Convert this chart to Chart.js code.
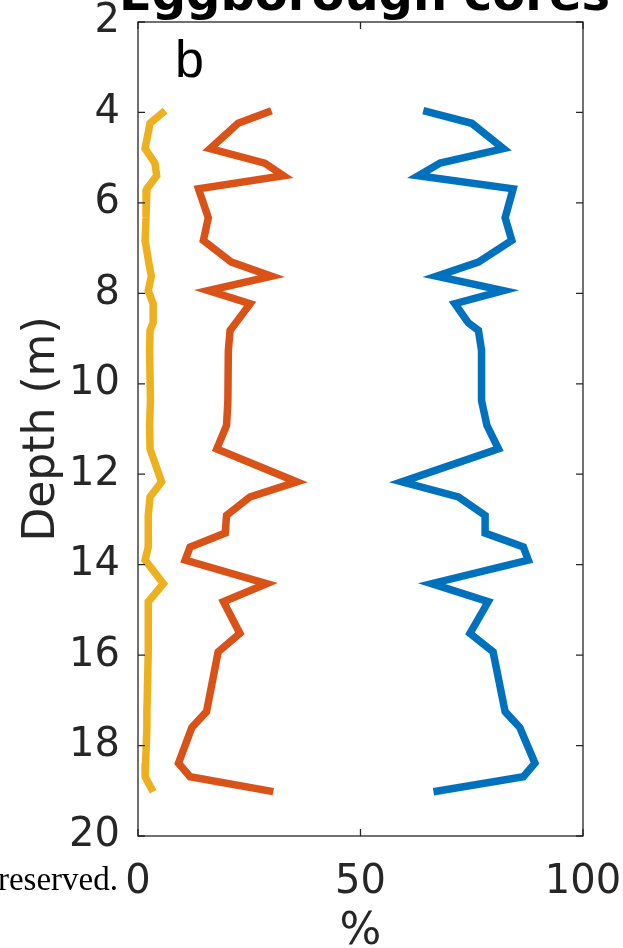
<!DOCTYPE html>
<html>
<head>
<meta charset="utf-8">
<script src="https://cdn.jsdelivr.net/npm/chart.js@4/dist/chart.umd.min.js"></script>
<style>
  html, body { margin: 0; padding: 0; background: #fff; overflow: hidden; }
  #wrap { position: relative; width: 623px; height: 948px; }
  #note {
    position: absolute; right: 505px; top: 861px;
    font-family: "Liberation Serif", serif; font-size: 33px; color: #000;
    white-space: nowrap;
  }
</style>
</head>
<body>
<div id="wrap">
  <canvas id="coreChart" width="623" height="948"></canvas>
  <div id="note">reserved.</div>
</div>
<script>
// sample depths (m) and the three fractions (%)
const depths = [3.96, 4.24, 4.8, 5.12, 5.4, 5.69, 6.33, 6.83, 7.31, 7.62, 7.94, 8.23, 8.65, 8.82,
  9.26, 10.37, 10.92, 11.44, 12.17, 12.5, 12.91, 13.3, 13.61, 13.9, 14.42, 14.82, 15.52, 15.93,
  17.25, 17.6, 18.39, 18.69, 19.02];
const blueValues = [64.1, 75.0, 82.1, 67.9, 63.0, 84.3, 82.5, 84.0, 76.5, 67.1, 82.1, 71.2, 74.2, 76.5,
  77.2, 77.2, 78.4, 81.0, 59.3, 72.0, 78.0, 78.0, 86.6, 87.7, 66.0, 78.7, 74.6, 79.8,
  82.5, 85.8, 89.2, 86.6, 66.4];
const orangeValues = [30.0, 22.5, 16.2, 28.5, 32.7, 13.6, 15.8, 14.7, 21.0, 30.0, 15.8, 25.2, 22.0, 20.7,
  20.3, 20.2, 19.9, 17.7, 35.7, 25.2, 19.9, 19.6, 11.7, 10.6, 28.9, 19.2, 22.9, 18.0,
  15.4, 12.1, 9.1, 11.7, 30.4];
const yellowValues = [6.1, 2.7, 1.6, 3.8, 4.2, 2.0, 1.8, 1.6, 2.4, 3.0, 2.3, 3.4, 3.4, 2.7,
  2.6, 2.8, 2.6, 2.7, 5.3, 2.7, 2.3, 2.3, 2.3, 1.6, 5.7, 2.3, 2.3, 2.3,
  2.0, 2.0, 1.7, 1.6, 3.4];
const depthTicks = [2, 4, 6, 8, 10, 12, 14, 16, 18, 20];
const percentTicks = [0, 50, 100];

const axisColor = '#262626';

function toPoints(values) {
  return values.map((v, i) => ({ x: v, y: depths[i] }));
}

function makeSeries(values, color) {
  return {
    data: toPoints(values),
    borderColor: color,
    backgroundColor: color,
    borderWidth: 7.5,
    pointRadius: 0,
    showLine: true,
    tension: 0,
    fill: false
  };
}

// box, inward ticks, title and panel letter (matlab style)
const framePlugin = {
  id: 'frame',
  afterDatasetsDraw(chart) {
    const { ctx, chartArea: a, scales } = chart;
    const tick = 7;
    ctx.save();
    ctx.strokeStyle = axisColor;
    ctx.lineWidth = 1.3;
    ctx.strokeRect(a.left, a.top, a.right - a.left, a.bottom - a.top);
    ctx.beginPath();
    depthTicks.forEach(d => {
      const y = scales.y.getPixelForValue(d);
      ctx.moveTo(a.left, y); ctx.lineTo(a.left + tick, y);
      ctx.moveTo(a.right, y); ctx.lineTo(a.right - tick, y);
    });
    percentTicks.forEach(p => {
      const x = scales.x.getPixelForValue(p);
      ctx.moveTo(x, a.bottom); ctx.lineTo(x, a.bottom - tick);
      ctx.moveTo(x, a.top); ctx.lineTo(x, a.top + tick);
    });
    ctx.stroke();

    ctx.fillStyle = '#000';
    ctx.textAlign = 'center';
    ctx.textBaseline = 'alphabetic';
    ctx.font = 'bold 48px "DejaVu Sans"';
    ctx.fillText('Eggborough cores', (a.left + a.right) / 2 + 4, 10);

    ctx.textAlign = 'left';
    ctx.font = '52px "Liberation Sans"';
    ctx.fillText('b', a.left + 37, 77);
    ctx.restore();
  }
};

// keep tick labels from pushing the plot box inwards
function noOverflow(scale) {
  scale.paddingTop = 0;
  scale.paddingBottom = 0;
  scale.paddingLeft = 0;
  scale.paddingRight = 0;
}

new Chart(document.getElementById('coreChart'), {
  type: 'scatter',
  data: {
    datasets: [
      makeSeries(blueValues, '#0072BD'),
      makeSeries(orangeValues, '#D95319'),
      makeSeries(yellowValues, '#EDB120')
    ]
  },
  options: {
    responsive: false,
    animation: false,
    layout: { padding: { top: 22, right: 40, left: 0, bottom: 0 } },
    plugins: {
      legend: { display: false },
      tooltip: { enabled: false }
    },
    scales: {
      x: {
        type: 'linear',
        min: 0,
        max: 100,
        afterBuildTicks(scale) { scale.ticks = percentTicks.map(v => ({ value: v })); },
        afterFit(scale) { scale.height = 112; noOverflow(scale); },
        grid: { display: false },
        border: { display: false },
        ticks: {
          color: axisColor,
          font: { family: 'DejaVu Sans', size: 40 },
          padding: 15,
          maxRotation: 0
        },
        title: {
          display: true,
          text: '%',
          color: axisColor,
          font: { family: 'DejaVu Sans', size: 44, lineHeight: 0.68 },
          padding: 0
        }
      },
      y: {
        type: 'linear',
        reverse: true,
        min: 2,
        max: 20,
        afterBuildTicks(scale) { scale.ticks = depthTicks.map(v => ({ value: v })); },
        afterFit(scale) { scale.width = 138; noOverflow(scale); },
        grid: { display: false },
        border: { display: false },
        ticks: {
          color: axisColor,
          font: { family: 'DejaVu Sans', size: 40 },
          padding: 10
        },
        title: {
          display: true,
          text: 'Depth (m)',
          color: axisColor,
          font: { family: 'DejaVu Sans', size: 44 },
          padding: { top: 16, bottom: 0 }
        }
      }
    }
  },
  plugins: [framePlugin]
});
</script>
</body>
</html>
